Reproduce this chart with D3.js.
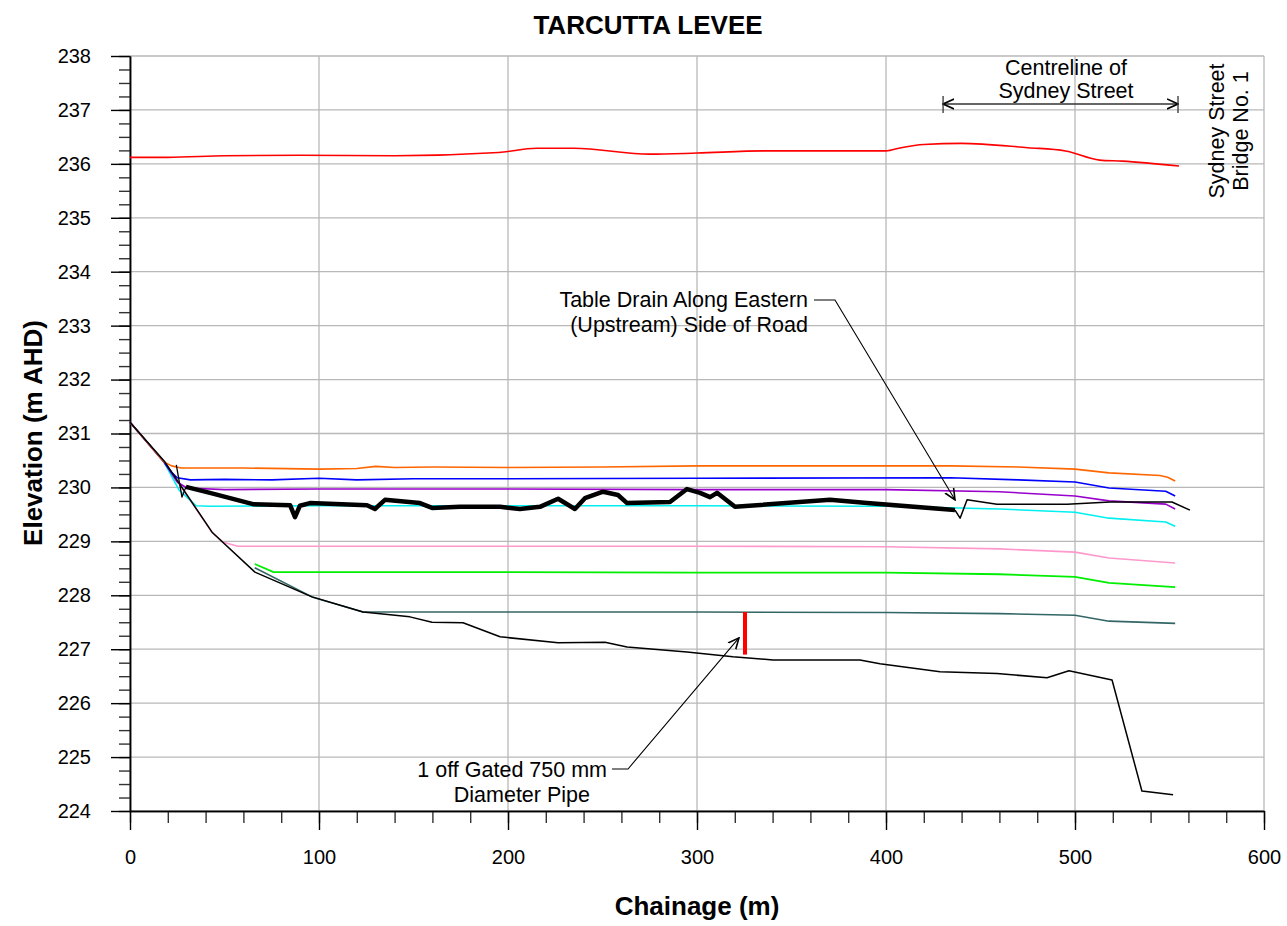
<!DOCTYPE html>
<html>
<head>
<meta charset="utf-8">
<script src="https://cdn.jsdelivr.net/npm/d3@7"></script>
<style>
  html, body { margin: 0; padding: 0; background: #fff; }
  svg { display: block; font-family: Arial, "Liberation Sans", sans-serif; }
</style>
</head>
<body>
<svg id="chart" width="1287" height="926"></svg>
<script>
// Long section along the Tarcutta levee: chainage (m) vs elevation (m AHD)

const xMajorTicks = [0, 100, 200, 300, 400, 500, 600];
const yMajorTicks = [224, 225, 226, 227, 228, 229, 230, 231, 232, 233, 234, 235, 236, 237, 238];

// Top of levee / design crest
const crestRed = [[0,236.12],[20,236.12],[50,236.15],[90,236.16],[140,236.15],[195,236.21],[215,236.29],[235,236.29],[275,236.18],[300,236.2],[335,236.24],[400,236.24],[408,236.3],[420,236.36],[440,236.38],[475,236.3],[495,236.24],[513,236.07],[525,236.05],[555,235.96]];

// Flood level profiles
const floodOrange = [[0,231.21],[18,230.47],[22,230.40],[27,230.36],[60,230.36],[100,230.34],[120,230.35],[130,230.39],[140,230.37],[160,230.38],[200,230.37],[250,230.38],[300,230.40],[350,230.40],[400,230.40],[434,230.40],[470,230.38],[500,230.34],[518,230.27],[545,230.22],[549,230.19],[553,230.12]];
const floodBlue = [[0,231.21],[18,230.47],[22,230.28],[25,230.18],[32,230.14],[50,230.15],[75,230.14],[100,230.17],[120,230.14],[150,230.16],[200,230.16],[300,230.17],[434,230.18],[470,230.14],[500,230.10],[518,229.99],[548,229.93],[553,229.84]];
const floodPurple = [[0,231.21],[18,230.47],[25,230.10],[30,229.99],[50,229.96],[100,229.97],[200,229.97],[300,229.96],[400,229.96],[460,229.92],[500,229.84],[518,229.75],[548,229.69],[553,229.60]];
const floodCyan = [[0,231.21],[18,230.47],[26,229.95],[35,229.66],[42,229.65],[100,229.66],[200,229.66],[300,229.66],[400,229.65],[460,229.60],[500,229.54],[518,229.43],[548,229.36],[553,229.28]];
const floodPink = [[0,231.21],[18,230.47],[43.4,229.17],[49,228.99],[57,228.91],[100,228.91],[200,228.91],[300,228.91],[400,228.90],[460,228.86],[500,228.80],[518,228.69],[553,228.60]];
const floodGreen = [[66,228.58],[76,228.43],[200,228.43],[300,228.42],[400,228.42],[460,228.39],[500,228.34],[518,228.23],[553,228.15]];
const floodTeal = [[66,228.51],[96.3,227.97],[123.3,227.69],[200,227.69],[300,227.69],[400,227.68],[460,227.66],[500,227.63],[518,227.52],[553,227.48]];

// Natural surface
const ground = [[0,231.21],[18.5,230.47],[43.4,229.17],[66.1,228.43],[96.3,227.97],[123.3,227.69],[148.1,227.60],[159.8,227.50],[176.2,227.49],[195.8,227.23],[226.5,227.12],[251.3,227.13],[263.0,227.04],[294.7,226.95],[319.0,226.86],[340.2,226.80],[386.2,226.80],[396.8,226.73],[428.6,226.58],[458.7,226.55],[485.2,226.47],[496.8,226.60],[519.6,226.43],[535.4,224.37],[551.9,224.30]];

// Existing road surface
const roadLeadIn = [[24.5,230.42],[27.5,229.82],[29.6,230.01]];
const road = [[29.6,230.01],[42.3,229.90],[65.1,229.69],[84.7,229.67],[87.3,229.45],[89.9,229.66],[95.2,229.71],[125.4,229.67],[129.6,229.60],[134.9,229.77],[153.4,229.71],[159.8,229.62],[174.6,229.64],[195.8,229.64],[206.3,229.60],[216.9,229.64],[226.5,229.79],[235.4,229.60],[240.7,229.80],[250.3,229.92],[258.2,229.86],[263.0,229.71],[285.7,229.73],[294.7,229.97],[301.6,229.90],[306.9,229.82],[310.6,229.90],[320.1,229.64],[370.4,229.77],[390.0,229.71],[436.5,229.58]];
const tableDrain = [[436.5,229.58],[439.2,229.43],[442.9,229.77],[458.7,229.69],[495.8,229.69],[518.5,229.73],[551.3,229.73],[560.8,229.58]];

// Gated pipe: chainage and invert/obvert levels
const pipe = [[325.4,227.69],[325.4,226.90]];

const series = [
  { data: floodTeal,   color: "#336666", width: 1.6 },
  { data: floodGreen,  color: "#00ee00", width: 1.8 },
  { data: floodPink,   color: "#ff99cc", width: 1.6 },
  { data: floodCyan,   color: "#00f0f0", width: 1.6 },
  { data: floodPurple, color: "#9900cc", width: 1.6 },
  { data: floodBlue,   color: "#0000ff", width: 1.6 },
  { data: floodOrange, color: "#ff6600", width: 1.6 },
  { data: ground,      color: "#000000", width: 1.5 },
  { data: roadLeadIn,  color: "#000000", width: 1.3 },
  { data: road,        color: "#000000", width: 4.5 },
  { data: tableDrain,  color: "#000000", width: 1.5 }
];

const svg = d3.select("#chart");
const x = d3.scaleLinear().domain([0, 600]).range([130, 1264]);
const y = d3.scaleLinear().domain([224, 238]).range([811, 56]);

// Grid
const grid = svg.append("g").attr("stroke", "#b8b8b8").attr("stroke-width", 1.3);
yMajorTicks.forEach(v => grid.append("line").attr("x1", x(0)).attr("x2", x(600)).attr("y1", y(v)).attr("y2", y(v)));
xMajorTicks.forEach(v => grid.append("line").attr("x1", x(v)).attr("x2", x(v)).attr("y1", y(224)).attr("y2", y(238)));

// Axes
const yMinor = d3.range(224, 238.001, 0.25);
const xMinor = d3.range(0, 600.001, 20);

function styleAxis(g) {
  g.select(".domain").attr("stroke", "#000").attr("stroke-width", 1.5);
  g.selectAll(".tick line").attr("stroke", "#333").attr("stroke-width", 1.4);
  g.selectAll(".tick text").attr("font-size", 20).attr("fill", "#000")
    .attr("font-family", "Arial, 'Liberation Sans', sans-serif");
}

svg.append("g").attr("transform", `translate(${x(0)},0)`)
  .call(d3.axisLeft(y).tickValues(yMinor).tickSize(11).tickFormat("").tickSizeOuter(0)).call(styleAxis);
svg.append("g").attr("transform", `translate(0,${y(224)})`)
  .call(d3.axisBottom(x).tickValues(xMinor).tickSize(12).tickFormat("").tickSizeOuter(0)).call(styleAxis);
svg.append("g").attr("transform", `translate(${x(0)},0)`)
  .call(d3.axisLeft(y).tickValues(yMajorTicks).tickSize(19).tickPadding(20).tickFormat(d3.format("d")).tickSizeOuter(0))
  .call(styleAxis)
  .call(g => g.selectAll(".tick line").attr("stroke", "#000"));
svg.append("g").attr("transform", `translate(0,${y(224)})`)
  .call(d3.axisBottom(x).tickValues(xMajorTicks).tickSize(19).tickPadding(20).tickFormat(d3.format("d")).tickSizeOuter(0))
  .call(styleAxis)
  .call(g => g.selectAll(".tick line").attr("stroke", "#000"));

// Data lines
const line = d3.line().x(d => x(d[0])).y(d => y(d[1]));
const smooth = d3.line().x(d => x(d[0])).y(d => y(d[1])).curve(d3.curveMonotoneX);

const plot = svg.append("g").attr("fill", "none").attr("stroke-linejoin", "round");
plot.append("path").attr("d", smooth(crestRed)).attr("stroke", "#ff0000").attr("stroke-width", 1.6);
series.forEach(s => {
  plot.append("path").attr("d", line(s.data)).attr("stroke", s.color).attr("stroke-width", s.width);
});
plot.append("path").attr("d", line(pipe)).attr("stroke", "#ff0000").attr("stroke-width", 4);

// Open arrowheads
const defs = svg.append("defs");
defs.append("marker").attr("id", "arrowEnd").attr("viewBox", "0 0 12 12")
  .attr("refX", 11).attr("refY", 6).attr("markerWidth", 12).attr("markerHeight", 12)
  .attr("markerUnits", "userSpaceOnUse").attr("orient", "auto")
  .append("path").attr("d", "M0,1 L11,6 L0,11").attr("fill", "none").attr("stroke", "#000").attr("stroke-width", 1.6);
defs.append("marker").attr("id", "arrowStart").attr("viewBox", "0 0 12 12")
  .attr("refX", 1).attr("refY", 6).attr("markerWidth", 12).attr("markerHeight", 12)
  .attr("markerUnits", "userSpaceOnUse").attr("orient", "auto")
  .append("path").attr("d", "M12,1 L1,6 L12,11").attr("fill", "none").attr("stroke", "#000").attr("stroke-width", 1.6);

const ann = svg.append("g").attr("font-size", 21.5).attr("fill", "#000");

// Centreline of Sydney Street extent
const clY = y(237.11);
svg.append("line").attr("x1", x(430.2)).attr("x2", x(554.5)).attr("y1", clY).attr("y2", clY)
  .attr("stroke", "#333").attr("stroke-width", 1.6)
  .attr("marker-start", "url(#arrowStart)").attr("marker-end", "url(#arrowEnd)");
[430.2, 554.5].forEach(v => svg.append("line").attr("x1", x(v)).attr("x2", x(v))
  .attr("y1", clY - 8).attr("y2", clY + 9).attr("stroke", "#333").attr("stroke-width", 1.3));
ann.append("text").attr("x", 1066).attr("y", 75).attr("text-anchor", "middle").text("Centreline of");
ann.append("text").attr("x", 1066).attr("y", 98).attr("text-anchor", "middle").text("Sydney Street");

// Bridge label
const bridge = ann.append("text").attr("transform", "translate(1224,131) rotate(-90)").attr("text-anchor", "middle");
bridge.append("tspan").attr("x", 0).attr("dy", 0).text("Sydney Street");
bridge.append("tspan").attr("x", 0).attr("dy", 24).text("Bridge No. 1");

// Table drain callout
ann.append("text").attr("x", 808).attr("y", 307).attr("text-anchor", "end").text("Table Drain Along Eastern");
ann.append("text").attr("x", 808).attr("y", 332).attr("text-anchor", "end").text("(Upstream) Side of Road");
svg.append("path").attr("d", `M814,300 L835,300 L${x(436.5)},${y(229.77)}`)
  .attr("fill", "none").attr("stroke", "#000").attr("stroke-width", 1.1).attr("marker-end", "url(#arrowEnd)");

// Pipe callout
ann.append("text").attr("x", 607).attr("y", 777).attr("text-anchor", "end").text("1 off Gated 750 mm");
ann.append("text").attr("x", 590).attr("y", 802).attr("text-anchor", "end").text("Diameter Pipe");
svg.append("path").attr("d", `M612,769 L628,769 L${x(322.2)},${y(227.21)}`)
  .attr("fill", "none").attr("stroke", "#000").attr("stroke-width", 1.1).attr("marker-end", "url(#arrowEnd)");

// Titles
svg.append("text").attr("x", 648).attr("y", 34).attr("text-anchor", "middle")
  .attr("font-size", 26).attr("font-weight", "bold").text("TARCUTTA LEVEE");
svg.append("text").attr("x", 697).attr("y", 915).attr("text-anchor", "middle")
  .attr("font-size", 26).attr("font-weight", "bold").text("Chainage (m)");
svg.append("text").attr("transform", "translate(42,433) rotate(-90)").attr("text-anchor", "middle")
  .attr("font-size", 26).attr("font-weight", "bold").text("Elevation (m AHD)");
</script>
</body>
</html>
